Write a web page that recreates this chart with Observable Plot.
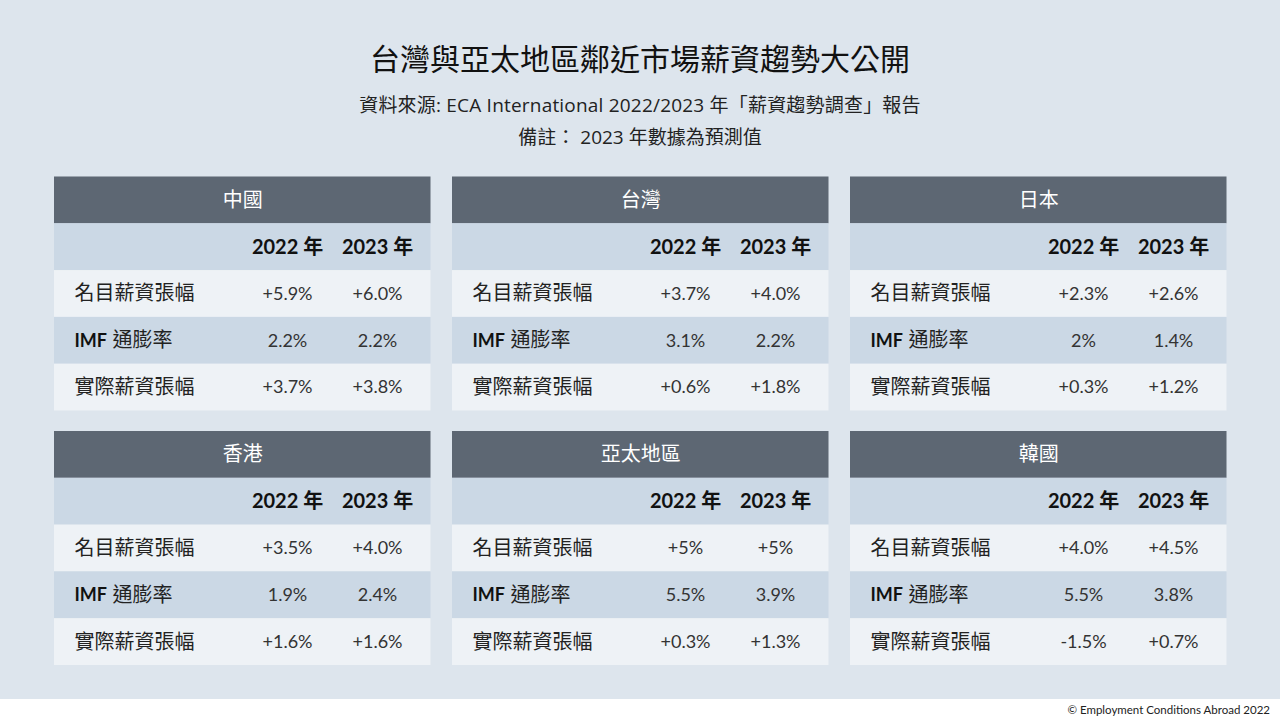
<!DOCTYPE html>
<html>
<head>
<meta charset="utf-8">
<script src="https://cdn.jsdelivr.net/npm/d3@7"></script>
<script src="https://cdn.jsdelivr.net/npm/@observablehq/plot@0.6"></script>
<style>
  html, body { margin: 0; padding: 0; background: #ffffff; }
  #wrap { position: relative; width: 1280px; height: 720px; overflow: hidden; background: #ffffff;
          font-family: Lato, "Noto Sans CJK TC", sans-serif; }
  #bg { position: absolute; left: 0; top: 0; width: 1280px; height: 699px; background: #dde5ed; }
  .t { position: absolute; left: 0; width: 1280px; text-align: center; white-space: nowrap; }
  #title { top: 42px; font-size: 30px; line-height: 32px; font-weight: 400; color: #111; }
  #sub1, #sub2 { font-family: "Open Sans", "Noto Sans CJK TC", sans-serif; font-size: 19px; line-height: 20px; color: #222; }
  #sub1 { top: 95px; letter-spacing: 0.2px; }
  #sub2 { top: 127px; }
  #chart { position: absolute; left: 0; top: 160px; }
  #chart svg { display: block; }
  #caption { position: absolute; right: 10px; top: 699px; height: 21px; line-height: 21px; font-size: 11.5px; color: #222; }
</style>
</head>
<body>
<div id="wrap">
  <div id="bg"></div>
  <div id="title" class="t">台灣與亞太地區鄰近市場薪資趨勢大公開</div>
  <div id="sub1" class="t">資料來源: ECA International 2022/2023 年「薪資趨勢調查」報告</div>
  <div id="sub2" class="t">備註： 2023 年數據為預測值</div>
  <div id="chart"></div>
  <div id="caption">© Employment Conditions Abroad 2022</div>
</div>
<script>
// ---- data ----
const regions = ["中國", "台灣", "日本", "香港", "亞太地區", "韓國"];
const years = ["2022 年", "2023 年"];
const metrics = ["名目薪資張幅", "IMF 通膨率", "實際薪資張幅"];
const nominal2022 = ["+5.9%", "+3.7%", "+2.3%", "+3.5%", "+5%", "+4.0%"];
const nominal2023 = ["+6.0%", "+4.0%", "+2.6%", "+4.0%", "+5%", "+4.5%"];
const inflation2022 = ["2.2%", "3.1%", "2%", "1.9%", "5.5%", "5.5%"];
const inflation2023 = ["2.2%", "2.2%", "1.4%", "2.4%", "3.9%", "3.8%"];
const real2022 = ["+3.7%", "+0.6%", "+0.3%", "+1.6%", "+0.3%", "-1.5%"];
const real2023 = ["+3.8%", "+1.8%", "+1.2%", "+1.6%", "+1.3%", "+0.7%"];

// ---- layout / styles ----
const series = [[nominal2022, nominal2023], [inflation2022, inflation2023], [real2022, real2023]];
const rowKeys = ["head", "year", ...metrics];
const rowFill = {head: "#5d6773", year: "#cbd8e5"};
const metricFill = ["#eef2f6", "#cbd8e5", "#eef2f6"];
metrics.forEach((m, j) => rowFill[m] = metricFill[j]);
const panelW = 376.5;
const colPos = {label: 20, center: panelW / 2};
colPos[years[0]] = 233;
colPos[years[1]] = 323;

const place = (i) => ({col: i % 3, prow: Math.floor(i / 3)});

const cells = regions.flatMap((r, i) => rowKeys.map(k => ({region: r, ...place(i), row: k})));
const heads = regions.map((r, i) => ({region: r, ...place(i), row: "head"}));
const yearCells = regions.flatMap((r, i) => years.map(y => ({year: y, ...place(i), row: "year"})));
const labelCells = regions.flatMap((r, i) => metrics.map(m => {
  const bold = m.startsWith("IMF ") ? "IMF" : null;
  return {metric: m, bold, rest: bold ? m.slice(4) : m, ...place(i)};
}));
const valueCells = regions.flatMap((r, i) =>
  metrics.flatMap((m, j) => years.map((y, k) => ({metric: m, year: y, value: series[j][k][i], ...place(i)}))));

const H = 539;
const chart = Plot.plot({
  width: 1280,
  height: H,
  marginTop: 16.5,
  marginBottom: 34,
  marginLeft: 54,
  marginRight: 53.5,
  style: {background: "transparent", fontFamily: 'Lato, "Noto Sans CJK TC", sans-serif'},
  fx: {domain: [0, 1, 2], paddingInner: 21.5 / 398, paddingOuter: 0, round: false, axis: null, label: null},
  fy: {domain: [0, 1], paddingInner: 20.5 / 254.5, paddingOuter: 0, round: false, axis: null, label: null},
  x: {domain: [0, panelW], axis: null},
  y: {domain: rowKeys, padding: 0, round: false, axis: null},
  color: {type: "identity"},
  marks: [
    Plot.barX(cells, {
      fx: "col", fy: "prow", y: "row",
      x1: () => 0, x2: () => panelW,
      fill: d => rowFill[d.row]
    }),
    Plot.text(heads, {
      fx: "col", fy: "prow", y: "row", x: () => colPos.center,
      text: "region", fill: "#ffffff", fontSize: 20, textAnchor: "middle"
    }),
    Plot.text(yearCells, {
      fx: "col", fy: "prow", y: "row", x: d => colPos[d.year],
      text: "year", fill: "#111111", fontSize: 20, fontWeight: "bold", textAnchor: "middle"
    }),
    Plot.text(labelCells.filter(d => d.bold), {
      fx: "col", fy: "prow", y: "metric", x: () => colPos.label,
      text: "bold", fill: "#111111", fontSize: 18, fontWeight: "bold", textAnchor: "start"
    }),
    Plot.text(labelCells.filter(d => !d.bold), {
      fx: "col", fy: "prow", y: "metric", x: () => colPos.label,
      text: "rest", fill: "#222222", fontSize: 20, textAnchor: "start"
    }),
    Plot.text(labelCells.filter(d => d.bold), {
      fx: "col", fy: "prow", y: "metric", x: () => colPos.label,
      dx: 38,
      text: "rest", fill: "#222222", fontSize: 20, textAnchor: "start"
    }),
    Plot.text(valueCells, {
      fx: "col", fy: "prow", y: "metric", x: d => colPos[d.year],
      text: "value", fill: "#333333", fontSize: 18, textAnchor: "middle"
    })
  ]
});
document.getElementById("chart").appendChild(chart);
</script>
</body>
</html>
